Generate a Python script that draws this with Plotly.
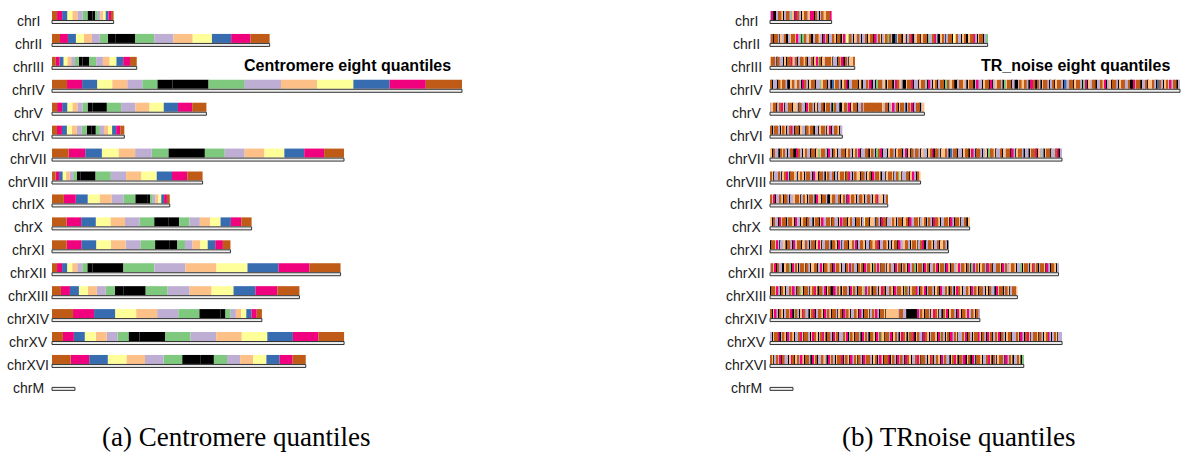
import plotly.graph_objects as go

# ---------------- data ----------------
chromosomes = ["chrI", "chrII", "chrIII", "chrIV", "chrV", "chrVI", "chrVII", "chrVIII",
               "chrIX", "chrX", "chrXI", "chrXII", "chrXIII", "chrXIV", "chrXV", "chrXVI", "chrM"]
# chromosome lengths (kb)
chrom_length_kb = [230.2, 813.2, 316.6, 1531.9, 576.9, 270.2, 1090.9, 562.6,
                   439.9, 745.8, 666.8, 1078.2, 924.4, 784.3, 1091.3, 948.1, 85.8]
# centromere positions (kb); chrM has none
centromere_kb = [151.5, 238.2, 114.4, 449.7, 151.9, 148.5, 496.9, 105.6,
                 355.6, 436.3, 440.1, 150.8, 268.0, 628.8, 326.6, 555.9, None]

quantile_names = ["Q1", "Q2", "Q3", "Q4", "Q5", "Q6", "Q7", "Q8"]
quantile_colors = ["#000000", "#7fc97f", "#beaed4", "#fdc086", "#ffff99", "#386cb0", "#f0027f", "#bf5b17"]

# TR-noise quantile per ~6 kb window (digit = quantile index), read approximately
trnoise_quantiles = [
    "26002773027721306720377236607202733776",
    "2707720327002377362101723700277320627022730770362417203272022703770627302371720053770320276023770377012276200372027704372203700377620377021",
    "37720722030776327027737022703617032777302207360720337",
    "7022073772003723720672037702213770205377203760227770302273602017723037702673200377602203772062037027701723700277320377026220377060237720137702002733720667072037720270377205227703772016032770227360230772037722700637702270337205720373627702",
    "237702763022770332072206377203022703772017220037726037702272" "77777777777" "327702362703772027360277023",
    "702772037302762077032207377022037720360277302",
    "3072207372027700672037220770313772062073022770372037260227703720176022037720377026030727720322037607720337205277022037703620772023017730227032770620377202203776031203770227602",
    "7302272037620773203730277206230772037227020377307620273307720370627730220377302713022770362073",
    "73602273077202237730273027720633077200377227037206377302773027720376233027",
    "3072206377027730622037707220377036227730722036277037220773024770332072067702237302770337062277302370272067730227730620773022703",
    "0773620223077206237703272027703630227720773062027703372602773022073376022773020377062237720377302760027730227033720",
    "2736072200377106273027730720337702630773270627730220736172207370627730172630772037220637702730622710377206370227360377206307720362773072016273037720637022773062720377302210377203672702773062077302",
    "0773620730227362071307720376307726037006273037720637207731627307720367022730627730172037762073602772037062273072036730227306273077203072206377027302773",
    "7036207302773601720367220376027730627307720370627302273062077302736207730" "3333333" "27722" "0000000" "627307720367302073603772063077362273072",
    "2037760273062730227630772036730276307720637022736027307720637207730627130772603720367302776037220673027730617203706273022736072037763072063702736072037702273062076302773072037620273022",
    "7302736072203670372630772063702273206372037760273062730720637720370263077603720637206730227630772036702730627220376307726037062077302276307203772062730227301",
]

# ---------------- layout constants ----------------
W, H = 1182, 456
PX_PER_KB = 410.0 / 1531.9
ROW_PX = 22.93
ROW0_PX = 15.5
LEFT_X0, RIGHT_X0 = 52, 770
SPLIT = 591

def rows(px):
    return px / ROW_PX

BAR_T = rows(9.0)
OUT_T = rows(3.0)
OUT_OFF = rows(6.5)
LAB_OFF = rows(5.5)

fig = go.Figure()

# ---- left panel: centromere-distance quantiles (eighths of each arm) ----
seg = {k: ([], [], []) for k in range(8)}
for i, (L, c) in enumerate(zip(chrom_length_kb, centromere_kb)):
    if c is None:
        continue
    R = L - c
    for k in range(8):
        ys, bs, ws = seg[k]
        ys.append(i); bs.append(c - (k + 1) * c / 8); ws.append(c / 8)
        ys.append(i); bs.append(c + k * R / 8); ws.append(R / 8)
for k in range(8):
    ys, bs, ws = seg[k]
    fig.add_trace(go.Bar(orientation="h", y=ys, x=ws, base=bs, width=BAR_T,
                         marker=dict(color=quantile_colors[k], line=dict(width=0)),
                         xaxis="x", yaxis="y", name=quantile_names[k], showlegend=False,
                         hoverinfo="skip"))

# ---- right panel: TR-noise quantiles ----
seg2 = {k: ([], [], []) for k in range(8)}
for i, s in enumerate(trnoise_quantiles):
    L = chrom_length_kb[i]
    w = L / len(s)
    for j, ch in enumerate(s):
        k = int(ch)
        ys, bs, ws = seg2[k]
        ys.append(i); bs.append(j * w); ws.append(w)
for k in range(8):
    ys, bs, ws = seg2[k]
    fig.add_trace(go.Bar(orientation="h", y=ys, x=ws, base=bs, width=BAR_T,
                         marker=dict(color=quantile_colors[k], line=dict(width=0)),
                         xaxis="x2", yaxis="y", name=quantile_names[k], showlegend=False,
                         hoverinfo="skip"))

# ---- chromosome outline bars (both panels) ----
yo = [i + OUT_OFF for i in range(len(chromosomes))]
for xa in ["x", "x2"]:
    fig.add_trace(go.Bar(orientation="h", y=yo, x=chrom_length_kb, base=[0] * len(chromosomes),
                         width=OUT_T, marker=dict(color="#ececec", line=dict(width=1, color="#333333")),
                         xaxis=xa, yaxis="y", showlegend=False, hoverinfo="skip"))

annotations = []
for i, name in enumerate(chromosomes):
    for xc in [28, 746]:
        annotations.append(dict(x=xc / W, xref="paper", y=i + LAB_OFF, yref="y", text=name,
                                showarrow=False, xanchor="center", yanchor="middle",
                                font=dict(family="Liberation Sans, Arial", size=14, color="#1a1a1a")))

annotations.append(dict(x=347.5 / W, xref="paper", y=1 - 65 / H, yref="paper",
                        text="<b>Centromere eight quantiles</b>", showarrow=False,
                        xanchor="center", yanchor="middle",
                        font=dict(family="Liberation Sans, Arial", size=16, color="#000000")))
annotations.append(dict(x=1075 / W, xref="paper", y=1 - 65 / H, yref="paper",
                        text="<b>TR_noise eight quantiles</b>", showarrow=False,
                        xanchor="center", yanchor="middle",
                        font=dict(family="Liberation Sans, Arial", size=16, color="#000000")))
annotations.append(dict(x=236 / W, xref="paper", y=1 - 437 / H, yref="paper",
                        text="(a) Centromere quantiles", showarrow=False,
                        xanchor="center", yanchor="middle",
                        font=dict(family="Liberation Serif, DejaVu Serif", size=27, color="#000000")))
annotations.append(dict(x=958 / W, xref="paper", y=1 - 437 / H, yref="paper",
                        text="(b) TRnoise quantiles", showarrow=False,
                        xanchor="center", yanchor="middle",
                        font=dict(family="Liberation Serif, DejaVu Serif", size=27, color="#000000")))

fig.update_layout(
    width=W, height=H, autosize=False,
    margin=dict(l=0, r=0, t=0, b=0),
    paper_bgcolor="white", plot_bgcolor="white",
    barmode="overlay", showlegend=False,
    xaxis=dict(domain=[0, SPLIT / W], range=[-LEFT_X0 / PX_PER_KB, (SPLIT - LEFT_X0) / PX_PER_KB],
               visible=False, fixedrange=True),
    xaxis2=dict(domain=[SPLIT / W, 1], range=[-(RIGHT_X0 - SPLIT) / PX_PER_KB, (W - RIGHT_X0) / PX_PER_KB],
                visible=False, fixedrange=True, anchor="y"),
    yaxis=dict(domain=[0, 1], range=[(H - ROW0_PX) / ROW_PX, -ROW0_PX / ROW_PX],
               visible=False, fixedrange=True),
    annotations=annotations,
)

fig.write_html("out.html")
